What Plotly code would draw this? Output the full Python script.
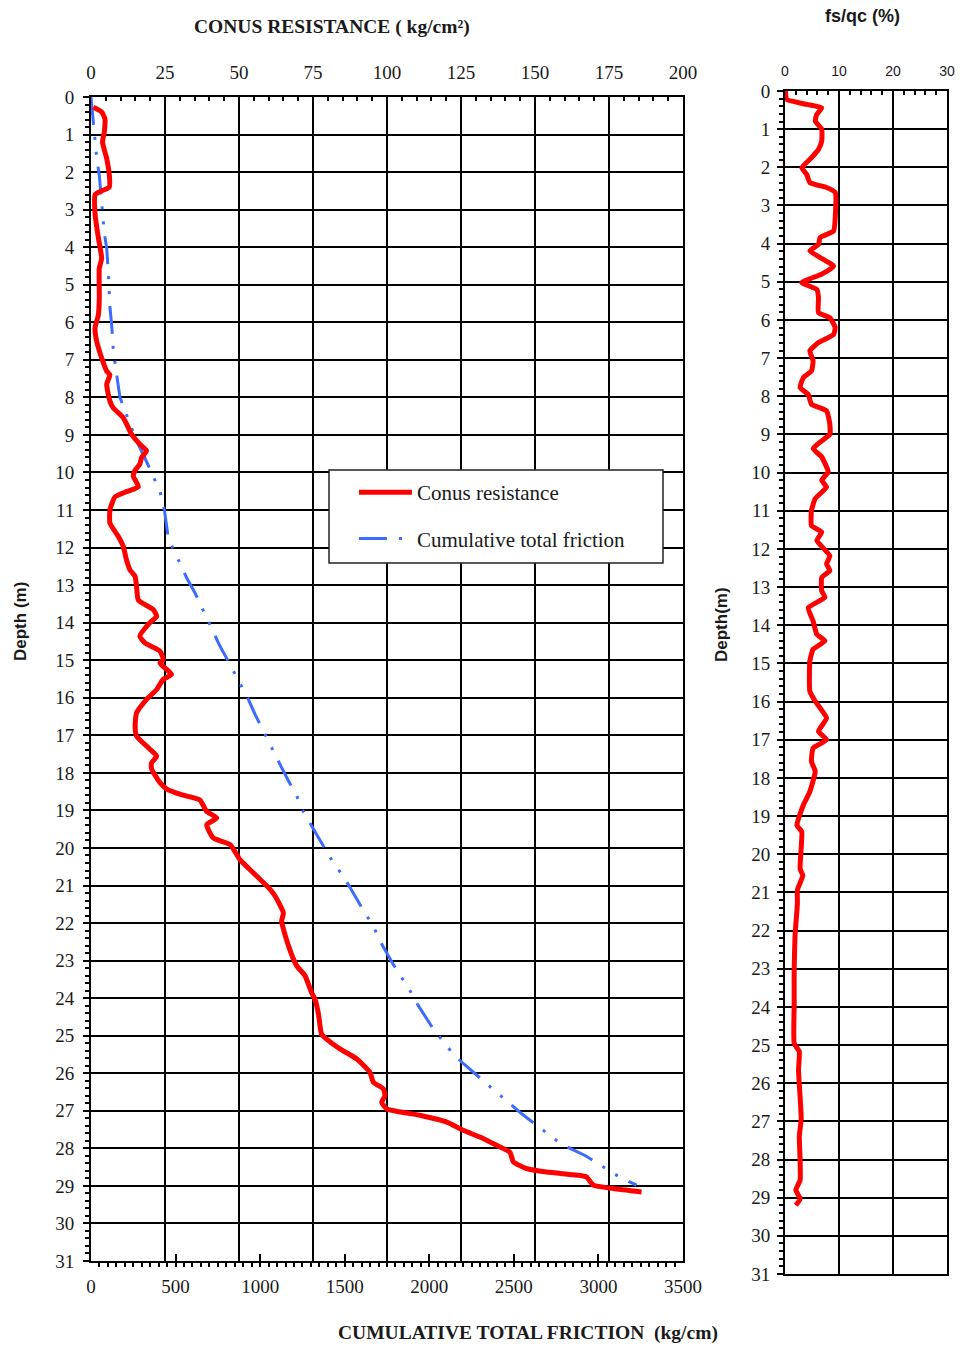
import plotly.graph_objects as go

# ---- Conus resistance (kg/cm2) vs depth (m) ----
conus_depth = [0.27, 0.4, 0.58, 0.93, 1.2, 1.64, 2.08, 2.4, 2.52, 2.6, 3.14, 3.76, 4.3, 4.56,
               5.35, 5.8, 6.15, 6.5, 6.95, 7.3, 7.4, 7.65, 8.1, 8.28, 8.54, 8.98, 9.25, 9.42,
               9.6, 9.78, 9.94, 10.1, 10.38, 10.51, 10.65, 11.0, 11.35, 11.7, 11.97, 12.33,
               12.6, 12.77, 13.04, 13.4, 13.65, 13.83, 14.0, 14.36, 14.54, 14.76, 14.98, 15.07,
               15.25, 15.38, 15.51, 15.78, 16.04, 16.4, 16.75, 17.02, 17.37, 17.55, 17.73, 17.9,
               18.26, 18.43, 18.58, 18.72, 19.03, 19.2, 19.38, 19.73, 19.91, 20.31, 20.66, 21.1,
               21.28, 21.73, 21.95, 22.6, 23.14, 23.4, 23.85, 24.03, 24.4, 24.96, 25.09, 25.35,
               25.62, 25.97, 26.24, 26.42, 26.6, 26.77, 26.95, 27.12, 27.3, 27.52, 27.7, 27.92,
               28.1, 28.36, 28.54, 28.63, 28.72, 28.76, 28.98, 29.07, 29.16]
conus_qc = [0.8, 3.6, 4.7, 4.5, 3.9, 5.3, 6.2, 6.2, 3.0, 1.4, 1.4, 2.5, 3.6, 2.8,
            2.8, 2.5, 1.35, 1.9, 3.6, 5.3, 6.4, 5.3, 6.4, 7.5, 10.9, 13.7, 16.5, 18.8,
            17.1, 16.5, 14.9, 14.3, 16.0, 12.0, 8.1, 6.4, 6.4, 9.2, 10.9, 12.0,
            13.2, 14.9, 15.4, 16.0, 21.0, 22.2, 19.9, 16.5, 18.2, 23.3, 24.4, 23.3,
            25.6, 27.2, 24.4, 22.2, 18.8, 15.4, 14.9, 15.4, 19.9, 22.2, 20.5, 20.5,
            23.3, 25.6, 30.5, 36.8, 39.1, 42.5, 39.1, 41.3, 47.0, 50.3, 54.8, 60.5,
            62.2, 65.0, 64.4, 66.7, 69.5, 72.3, 74.5, 75.7, 76.8, 77.9, 79.6, 84.1,
            89.8, 94.2, 95.4, 98.8, 99.3, 98.2, 99.9, 111.1, 120.2, 125.8, 131.4, 137.0,
            141.5, 142.7, 147.2, 153.9, 165.2, 167.4, 169.7, 176.4, 186.0]

# ---- Cumulative total friction (kg/cm) vs depth (m) ----
fric_depth = [0.0, 0.75, 1.2, 1.64, 2.08, 2.7, 3.14, 3.63, 4.03, 4.73, 5.6, 6.06, 6.77, 7.4,
              8.0, 8.72, 9.25, 9.87, 10.51, 11.0, 11.75, 12.42, 12.81, 13.21, 14.27, 14.63,
              15.03, 16.04, 16.44, 16.8, 17.86, 18.21, 18.61, 19.03, 19.63, 20.04, 20.4,
              20.75, 21.37, 21.73, 22.08, 22.48, 23.1, 23.48, 23.8, 24.2, 24.82, 25.16,
              25.49, 25.78, 26.24, 26.55, 26.81, 27.08, 27.52, 27.79, 28.0, 28.19, 28.58,
              28.8, 28.98]
fric_total = [0, 14, 24, 34, 49, 63, 69, 79, 93, 103, 112, 122, 132, 152,
              171, 231, 280, 345, 408, 434, 457, 526, 566, 615, 723, 763,
              812, 930, 970, 1009, 1127, 1167, 1216, 1255, 1334, 1383, 1433,
              1492, 1571, 1620, 1669, 1709, 1787, 1843, 1886, 1935, 2024, 2083,
              2142, 2211, 2329, 2408, 2477, 2546, 2674, 2753, 2832, 2921, 3058,
              3138, 3226]

# ---- fs/qc (%) vs depth (m) ----
ratio_depth = [0.0, 0.22, 0.35, 0.44, 0.61, 0.79, 1.0, 1.31, 1.53, 1.75, 2.01, 2.18, 2.4, 2.53,
               2.66, 3.32, 3.67, 3.84, 4.02, 4.19, 4.59, 4.8, 5.02, 5.2, 5.41, 5.81, 5.94, 6.2,
               6.38, 6.59, 6.81, 7.07, 7.34, 7.51, 7.77, 7.95, 8.21, 8.38, 8.73, 9.0, 9.2, 9.37,
               9.59, 9.98, 10.2, 10.38, 10.68, 10.99, 11.39, 11.56, 11.78, 12.18, 12.39, 12.57,
               12.75, 13.1, 13.27, 13.54, 13.89, 14.24, 14.41, 14.63, 14.94, 15.73, 15.99,
               16.43, 16.78, 17.0, 17.22, 17.57, 17.83, 18.36, 18.71, 19.24, 19.41, 20.38,
               20.56, 20.93, 21.28, 22.16, 23.03, 23.9, 24.96, 25.17, 25.66, 26.36, 26.93,
               27.4, 28.02, 28.54, 28.8, 29.03, 29.2]
ratio_fsqc = [0.1, 0.3, 4.0, 6.8, 5.9, 5.6, 6.8, 6.8, 6.2, 4.9, 3.1, 4.0, 4.6, 7.7,
              9.3, 9.3, 9.0, 6.5, 6.2, 4.6, 9.0, 6.8, 3.1, 5.9, 6.2, 6.2, 8.3, 9.3,
              9.0, 6.2, 4.6, 5.2, 4.9, 3.4, 2.8, 4.3, 4.9, 7.7, 8.3, 8.3, 6.5, 5.2,
              6.8, 8.0, 6.8, 7.7, 5.6, 4.9, 4.9, 6.8, 5.9, 8.3, 7.7, 8.3,
              6.8, 6.8, 7.4, 4.3, 5.2, 5.9, 7.4, 5.2, 4.6, 4.6, 5.6,
              7.7, 6.2, 7.7, 5.2, 4.9, 5.6, 4.6, 3.4, 2.2, 3.1, 2.8,
              3.3, 2.3, 2.3, 1.85, 1.7, 1.7, 1.7, 2.65, 2.5, 2.8, 3.0,
              2.65, 2.8, 2.8, 2.0, 2.8, 2.0]

depth_ticks = list(range(0, 32))

SERIF = "Liberation Serif, Times New Roman, serif"
SANS = "Liberation Sans, Arial, sans-serif"
TXT = "#1a1a1a"

fig = go.Figure()

fig.add_trace(go.Scatter(
    x=conus_qc, y=conus_depth, xaxis="x2", yaxis="y", mode="lines",
    name="Conus resistance", legendgroup="a",
    line=dict(color="#ff0000", width=5, shape="spline", smoothing=0.5),
))
fig.add_trace(go.Scatter(
    x=fric_total, y=fric_depth, xaxis="x", yaxis="y", mode="lines",
    name="Cumulative total friction", legendgroup="b",
    line=dict(color="#3b6cff", width=3, dash="28px,12px,3px,12px,3px,12px"),
))
fig.add_trace(go.Scatter(
    x=ratio_fsqc, y=ratio_depth, xaxis="x3", yaxis="y3", mode="lines",
    name="fs/qc", showlegend=False,
    line=dict(color="#ff0000", width=5, shape="spline", smoothing=0.4),
))

grid = dict(showgrid=True, gridcolor="black", gridwidth=1.7)
line = dict(showline=True, linecolor="black", linewidth=1.7, automargin=False)

fig.update_layout(
    template="none",
    width=963, height=1349,
    margin=dict(l=0, r=0, t=0, b=0, pad=0),
    paper_bgcolor="white", plot_bgcolor="white",
    showlegend=True,
    legend=dict(
        x=354 / 963, y=1 - 472 / 1349, xanchor="left", yanchor="top",
        bgcolor="rgba(0,0,0,0)", borderwidth=0,
        font=dict(family=SERIF, size=21, color=TXT),
        itemwidth=53, tracegroupgap=16,
    ),
    shapes=[
        dict(type="rect", xref="paper", yref="paper", layer="above",
             x0=329 / 963, x1=663 / 963, y0=1 - 563 / 1349, y1=1 - 470 / 1349,
             fillcolor="white", line=dict(color="#222", width=1.5)),
    ],
    # bottom axis: cumulative friction
    xaxis=dict(
        domain=[91 / 963, 683 / 963], anchor="y", side="bottom",
        range=[0, 3500], tickvals=[0, 500, 1000, 1500, 2000, 2500, 3000, 3500],
        showgrid=False, zeroline=False, **line,
        ticks="inside", ticklen=7, tickcolor="black", tickwidth=1.5,
        ticklabelstandoff=7,
        minor=dict(dtick=50, ticks="outside", ticklen=4, tickcolor="black", showgrid=False),
        tickfont=dict(family=SERIF, size=19, color=TXT),
    ),
    # top axis: conus resistance
    xaxis2=dict(
        overlaying="x", anchor="y", side="top",
        range=[0, 200], dtick=25, tick0=0,
        zeroline=False, **grid, **line,
        ticks="inside", ticklen=7, tickcolor="black", tickwidth=1.5,
        ticklabelstandoff=9,
        minor=dict(dtick=5, ticks="inside", ticklen=4, tickcolor="black", showgrid=False),
        tickfont=dict(family=SERIF, size=19, color=TXT),
    ),
    yaxis=dict(
        domain=[88 / 1349, 1252 / 1349], anchor="x",
        range=[31, 0], tickvals=depth_ticks,
        zeroline=False, mirror=True, **grid, **line,
        ticks="outside", ticklen=6, tickcolor="black", tickwidth=1.5,
        ticklabelstandoff=5,
        minor=dict(dtick=0.2, ticks="outside", ticklen=4, tickcolor="black", showgrid=False),
        tickfont=dict(family=SERIF, size=19, color=TXT),
    ),
    xaxis3=dict(
        domain=[785 / 963, 947 / 963], anchor="y3", side="top",
        range=[0, 30], dtick=10, tick0=0, mirror=True,
        zeroline=False, **grid, **line,
        ticks="inside", ticklen=6, tickcolor="black", tickwidth=1.5,
        ticklabelstandoff=8,
        minor=dict(dtick=2, ticks="inside", ticklen=4, tickcolor="black", showgrid=False),
        tickfont=dict(family=SANS, size=14, color=TXT),
    ),
    yaxis3=dict(
        domain=[75 / 1349, 1258 / 1349], anchor="x3",
        range=[31, 0], tickvals=depth_ticks, mirror=True,
        zeroline=False, **grid, **line,
        ticks="outside", ticklen=6, tickcolor="black", tickwidth=1.5,
        ticklabelstandoff=3,
        minor=dict(dtick=0.2, ticks="outside", ticklen=4, tickcolor="black", showgrid=False),
        tickfont=dict(family=SERIF, size=19, color=TXT),
    ),
    annotations=[
        dict(text="<b>CONUS RESISTANCE ( kg/cm²)</b>", x=332 / 963, y=1 - 27 / 1349,
             xref="paper", yref="paper", showarrow=False, xanchor="center", yanchor="middle",
             font=dict(family=SERIF, size=19.5, color=TXT)),
        dict(text="<b>CUMULATIVE TOTAL FRICTION  (kg/cm)</b>", x=528 / 963, y=1 - 1333 / 1349,
             xref="paper", yref="paper", showarrow=False, xanchor="center", yanchor="middle",
             font=dict(family=SERIF, size=19.5, color=TXT)),
        dict(text="<b>Depth (m)</b>", x=20 / 963, y=1 - 622 / 1349, textangle=-90,
             xref="paper", yref="paper", showarrow=False, xanchor="center", yanchor="middle",
             font=dict(family=SANS, size=17, color=TXT)),
        dict(text="<b>Depth(m)</b>", x=722 / 963, y=1 - 625 / 1349, textangle=-90,
             xref="paper", yref="paper", showarrow=False, xanchor="center", yanchor="middle",
             font=dict(family=SANS, size=17, color=TXT)),
        dict(text="<b>fs/qc (%)</b>", x=862 / 963, y=1 - 16 / 1349,
             xref="paper", yref="paper", showarrow=False, xanchor="center", yanchor="middle",
             font=dict(family=SANS, size=18, color=TXT)),
    ],
)

fig.write_html(
    "out.html",
    config={"displayModeBar": False},
    post_script="document.body.style.margin='0';document.body.style.overflow='hidden';",
)
